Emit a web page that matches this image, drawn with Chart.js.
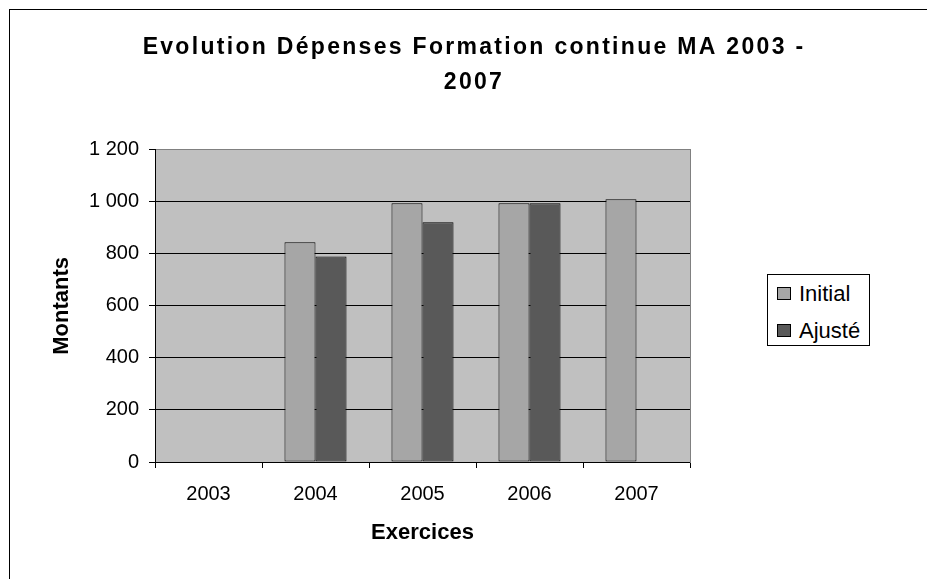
<!DOCTYPE html>
<html><head><meta charset="utf-8">
<script src="https://cdn.jsdelivr.net/npm/chart.js@4"></script>
<style>
html,body{margin:0;padding:0;background:#fff;overflow:hidden;width:927px;height:579px;}
#frame{position:absolute;left:9px;top:9px;width:2000px;height:2000px;border-left:1px solid #000;border-top:1px solid #000;}
#c{position:absolute;left:0;top:0;}
#legend{position:absolute;left:767px;top:274px;width:103px;height:72px;border:1px solid #000;background:#fff;box-sizing:border-box;padding:0 0 0 9px;font:22px "Liberation Sans",Arial,sans-serif;color:#000;}
.item{display:flex;align-items:center;height:37px;}
.sw{width:14px;height:13px;border:1px solid #000;margin-right:8px;flex:none;box-sizing:border-box;}
</style></head>
<body>
<div id="frame"></div>
<canvas id="c" width="927" height="579"></canvas>
<div id="legend"></div>
<script>
const categories = ['2003', '2004', '2005', '2006', '2007'];
const seriesNames = ['Initial', 'Ajusté'];
const initialValues = [null, 845, 995, 995, 1010];
const ajusteValues = [null, 790, 922, 995, null];
const yMin = 0, yMax = 1200, yStep = 200;
const seriesColors = ['#A6A6A6', '#595959'];

const FONT = '"Liberation Sans", Arial, sans-serif';
Chart.defaults.color = '#000';
Chart.defaults.font.family = FONT;

function fmt(v) { return String(v).replace(/\B(?=(\d{3})+(?!\d))/g, ' '); }

const titleSpacing = {
  id: 'titleSpacing',
  beforeDraw(chart) {
    const t = chart.titleBlock;
    if (t && !t._wrapped) {
      const orig = t.draw.bind(t);
      t.draw = function () {
        const ctx = chart.ctx;
        ctx.save();
        ctx.letterSpacing = '2.3px';
        orig();
        ctx.restore();
      };
      t._wrapped = true;
    }
  }
};

const chart = new Chart(document.getElementById('c'), {
  type: 'bar',
  data: {
    labels: categories,
    datasets: [
      { label: seriesNames[0], data: initialValues, backgroundColor: seriesColors[0], borderColor: '#000', borderWidth: 1, borderSkipped: false },
      { label: seriesNames[1], data: ajusteValues, backgroundColor: seriesColors[1], borderColor: '#000', borderWidth: 1, borderSkipped: false }
    ]
  },
  options: {
    responsive: false,
    animation: false,
    layout: { padding: { left: 21, top: 0, right: 0, bottom: 0 } },
    datasets: { bar: { categoryPercentage: 0.58, barPercentage: 1.0 } },
    plugins: {
      legend: { display: false },
      tooltip: { enabled: false },
      title: {
        display: true,
        text: ['Evolution Dépenses Formation continue MA 2003 -', '2007'],
        font: { family: FONT, size: 23, weight: 'bold', lineHeight: 1.54 },
        color: '#000',
        padding: { top: 30, bottom: 49 }
      }
    },
    scales: {
      x: {
        grid: { display: true, drawOnChartArea: false, drawTicks: true, tickLength: 6, color: '#000', offset: true },
        border: { display: true, color: '#000', width: 1 },
        ticks: { font: { size: 20 }, padding: 14, color: '#000', maxRotation: 0 },
        title: { display: true, text: 'Exercices', font: { size: 22, weight: 'bold' }, padding: { top: 0, bottom: 33 }, color: '#000' },
        afterFit(s) { s.height = 117; }
      },
      y: {
        min: yMin, max: yMax,
        ticks: { stepSize: yStep, font: { size: 20 }, padding: 10, color: '#000', callback: (v) => fmt(v) },
        grid: { color: (c) => (c.tick && c.tick.value === yMax ? '#808080' : '#000'), tickColor: '#000', tickLength: 6, lineWidth: 1 },
        border: { display: true, color: '#000', width: 1 },
        title: { display: true, text: 'Montants', font: { size: 22, weight: 'bold' }, padding: { top: 28, bottom: 0 }, color: '#000' },
        afterFit(s) { s.width = 134; }
      },
      y2: {
        position: 'right',
        display: true,
        grid: { display: false, drawTicks: false },
        ticks: { display: false },
        border: { display: true, color: '#808080', width: 1 },
        afterFit(s) { s.width = 237; }
      }
    }
  },
  plugins: [titleSpacing, {
    id: 'plotBg',
    beforeDraw(chart) {
      const { ctx, chartArea: a } = chart;
      ctx.save();
      ctx.fillStyle = '#C0C0C0';
      ctx.fillRect(a.left, a.top, a.right - a.left, a.bottom - a.top);
      ctx.restore();
    }
  }]
});

const leg = document.getElementById('legend');
chart.data.datasets.forEach((ds) => {
  const it = document.createElement('div');
  it.className = 'item';
  const sw = document.createElement('span');
  sw.className = 'sw';
  sw.style.background = ds.backgroundColor;
  const tx = document.createElement('span');
  tx.textContent = ds.label;
  it.appendChild(sw); it.appendChild(tx);
  leg.appendChild(it);
});
</script>
</body></html>
